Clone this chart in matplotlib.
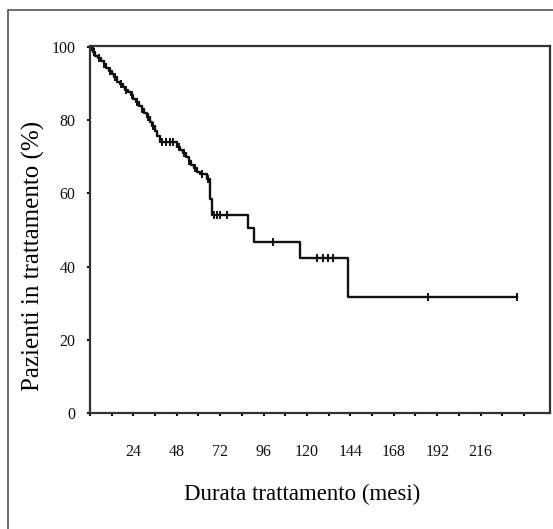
import numpy as np
import matplotlib
matplotlib.use("Agg")
from matplotlib import pyplot as plt
from matplotlib.patches import Rectangle

# Kaplan-Meier steps: event time (mesi) and % still in treatment after it
event_t = [0, 1.5, 3, 4.5, 6, 7.5, 9, 10.5, 12, 13.5, 15, 16.5, 18, 19.5, 21,
           22.5, 24, 25.5, 27, 28.5, 30, 31.5, 33, 34.5, 36, 37, 38.5,
           48, 50, 51.5, 53, 54.5, 56, 57.5, 59, 61, 64.5, 66.4, 67.5,
           87.5, 90.5, 116, 142.5]
event_s = [100, 98.8, 97.6, 96.9, 96.2, 95.4, 94.2, 93.4, 92.6, 91.8, 90.6, 90.0,
           89.2, 88.4, 87.7, 86.8, 85.9, 85.0, 84.0, 83.0, 81.9, 80.9, 79.6, 78.4,
           77.0, 75.6, 74.0,
           72.8, 72.0, 71.0, 70.0, 68.8, 67.8, 66.9, 66.0, 65.2, 64.0, 58.5, 54.0,
           50.5, 46.8, 42.3, 31.7]
end_t = 236

# censored patients
cens_t = [1, 2, 5, 8, 11, 14, 17, 20, 23, 26, 29, 32, 35, 40, 42, 44, 46, 49,
          52, 55, 58, 62, 65.5, 68.5, 70, 72, 76,
          101, 125.5, 129, 131.6, 134.4, 187, 236]

xticks = list(range(0, 241, 12))
xlabels = [str(t) if 24 <= t <= 216 and t % 24 == 0 else "" for t in xticks]
yticks = [0, 20, 40, 60, 80, 100]

plt.rcParams["font.family"] = ["Liberation Serif", "DejaVu Serif"]

fig = plt.figure(figsize=(5.53, 5.29), dpi=100)
ax = fig.add_axes([0.1627, 0.2193, 0.8319, 0.6937])

# step curve
st = np.array(event_t + [end_t])
ss = np.array(event_s + [event_s[-1]])
ax.step(st, ss, where="post", color="#111111", lw=1.7)

# censor marks placed on the curve
def surv_at(t):
    idx = np.searchsorted(event_t, t, side="right") - 1
    return event_s[idx]

ax.plot(cens_t, [surv_at(t) for t in cens_t], ls="none", marker="|",
        ms=6, mew=1.4, color="#111111")

ax.set_xlim(0, 254.4)
ax.set_ylim(0, 100.3)
ax.set_xticks(xticks)
ax.set_xticklabels(xlabels)
ax.set_yticks(yticks)
ax.tick_params(axis="x", length=2.5, width=1.5, direction="out", pad=20,
               labelsize=11.5, colors="#111111")
ax.tick_params(axis="y", length=2.5, width=1.5, direction="out", pad=8,
               labelsize=11.5, colors="#111111")

for side in ["left", "top", "right", "bottom"]:
    ax.spines[side].set_linewidth(1.6)
    ax.spines[side].set_color("#333333")

ax.set_xlabel("Durata trattamento (mesi)", fontsize=16.5)
ax.set_ylabel("Pazienti in trattamento (%)", fontsize=18)
ax.xaxis.set_label_coords(0.461, -0.192)
ax.yaxis.set_label_coords(-0.097, 0.428)

# outer frame of the figure panel
fig.patches.append(Rectangle((0.0145, -0.1), 1.2, 1.081, transform=fig.transFigure,
                             fill=False, lw=1.2, edgecolor="#555555"))

fig.savefig("out.png", dpi=100)
